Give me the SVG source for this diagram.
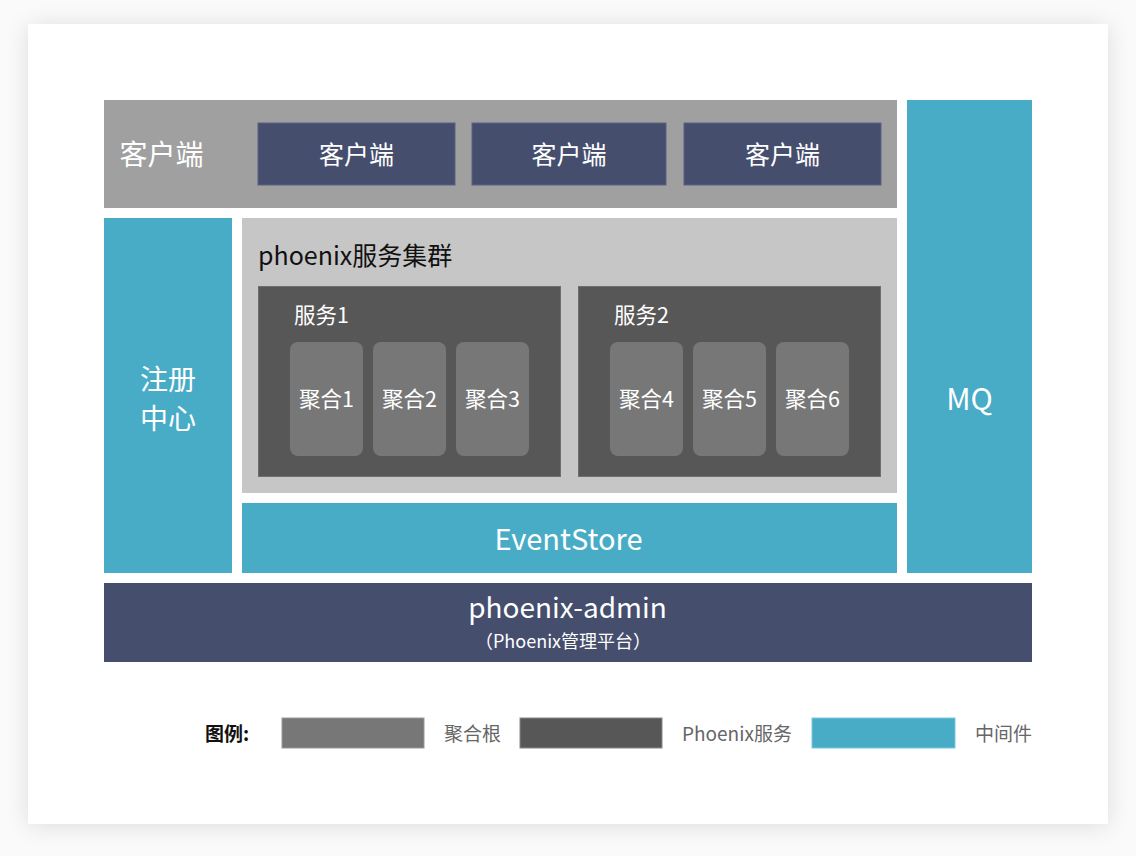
<svg xmlns="http://www.w3.org/2000/svg" width="1136" height="856" viewBox="0 0 1136 856">
<defs>
<filter id="sh" x="-10%" y="-10%" width="120%" height="120%">
<feGaussianBlur in="SourceAlpha" stdDeviation="12"/>
<feOffset dx="0" dy="2" result="b"/>
<feComponentTransfer><feFuncA type="linear" slope="0.12"/></feComponentTransfer>
<feMerge><feMergeNode/><feMergeNode in="SourceGraphic"/></feMerge>
</filter>
<style>
text{font-family:"PingFang SC","Noto Sans CJK SC","Noto Sans",sans-serif;}
.w{fill:#fff;text-anchor:middle;dominant-baseline:central;}
.navy{fill:#464e6e;}
.mid{fill:#48acc7;}
.agg{fill:#777;}
.svc{fill:#575757;stroke:#6e6e6e;stroke-width:1;}
.lg{fill:#666;font-size:19px;dominant-baseline:central;}
</style>
</defs>
<rect width="1136" height="856" fill="#fafafa"/>
<rect x="28" y="24" width="1080" height="800" fill="#fff" filter="url(#sh)"/>

<g id="client-layer">
<rect x="104" y="100" width="793" height="108" fill="#a0a0a0"/>
<text x="161.5" y="153" class="w" font-size="28">客户端</text>
</g>
<g id="client1"><rect x="258" y="123" width="197" height="62" class="navy" stroke="#5a6180"/><text x="356.5" y="153" class="w" font-size="25">客户端</text></g>
<g id="client2"><rect x="472" y="123" width="194" height="62" class="navy" stroke="#5a6180"/><text x="569" y="153" class="w" font-size="25">客户端</text></g>
<g id="client3"><rect x="684" y="123" width="197" height="62" class="navy" stroke="#5a6180"/><text x="782.5" y="153" class="w" font-size="25">客户端</text></g>

<g id="registry"><rect x="104" y="218" width="128" height="355" class="mid"/>
<text x="168" y="378" class="w" font-size="28">注册</text><text x="168" y="417" class="w" font-size="28">中心</text></g>

<g id="cluster"><rect x="242" y="218" width="655" height="275" fill="#c6c6c6"/>
<text x="258" y="254" font-size="25" fill="#111" dominant-baseline="central">phoenix服务集群</text></g>

<g id="service1"><rect x="258.5" y="286.5" width="302" height="190" class="svc"/>
<text x="294" y="313" font-size="21.5" fill="#fff" dominant-baseline="central">服务1</text></g>
<g id="service2"><rect x="578.5" y="286.5" width="302" height="190" class="svc"/>
<text x="614" y="313" font-size="21.5" fill="#fff" dominant-baseline="central">服务2</text></g>

<g id="agg1"><rect x="290" y="342" width="73" height="114" rx="8" class="agg"/><text x="326.5" y="397" class="w" font-size="21.5">聚合1</text></g>
<g id="agg2"><rect x="373" y="342" width="73" height="114" rx="8" class="agg"/><text x="409.5" y="397" class="w" font-size="21.5">聚合2</text></g>
<g id="agg3"><rect x="456" y="342" width="73" height="114" rx="8" class="agg"/><text x="492.5" y="397" class="w" font-size="21.5">聚合3</text></g>
<g id="agg4"><rect x="610" y="342" width="73" height="114" rx="8" class="agg"/><text x="646.5" y="397" class="w" font-size="21.5">聚合4</text></g>
<g id="agg5"><rect x="693" y="342" width="73" height="114" rx="8" class="agg"/><text x="729.5" y="397" class="w" font-size="21.5">聚合5</text></g>
<g id="agg6"><rect x="776" y="342" width="73" height="114" rx="8" class="agg"/><text x="812.5" y="397" class="w" font-size="21.5">聚合6</text></g>

<g id="eventstore"><rect x="242" y="503" width="655" height="70" class="mid"/><text x="568.5" y="537" class="w" font-size="29">EventStore</text></g>
<g id="mq"><rect x="907" y="100" width="125" height="473" class="mid"/><text x="969.5" y="397" class="w" font-size="30">MQ</text></g>

<g id="admin"><rect x="104" y="583" width="928" height="79" class="navy"/>
<text x="567.5" y="606" class="w" font-size="28">phoenix-admin</text>
<text x="563" y="640" class="w" font-size="18">（Phoenix管理平台）</text></g>

<g id="legend">
<text x="205" y="732" font-size="19" font-weight="bold" fill="#111" dominant-baseline="central">图例:</text>
<rect x="282" y="718" width="142" height="30" class="agg" stroke="#999" stroke-width="1"/>
<text x="444" y="732" class="lg">聚合根</text>
<rect x="520" y="718" width="142" height="30" fill="#575757" stroke="#888" stroke-width="1"/>
<text x="682" y="732" class="lg">Phoenix服务</text>
<rect x="812" y="718" width="143" height="30" class="mid" stroke="#7cc8dc" stroke-width="1"/>
<text x="975" y="732" class="lg">中间件</text>
</g>
<g id="connectors"></g>
</svg>
